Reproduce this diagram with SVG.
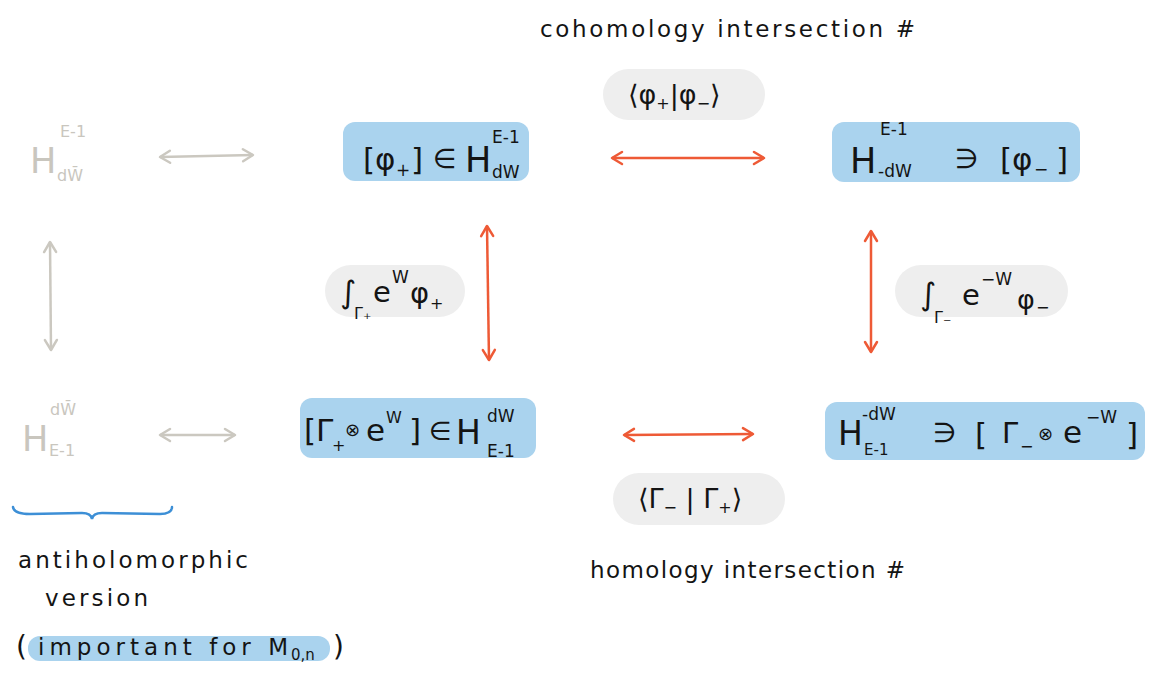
<svg xmlns="http://www.w3.org/2000/svg" width="1151" height="673" viewBox="0 0 1151 673">
<style>
text{font-family:"DejaVu Sans","Noto Sans",sans-serif;fill:#141414}
.m{font-size:31px}
.s{font-size:17px}
.g{fill:#c9c6be}
.box{fill:#aad3ee}
.pill{fill:#eeeeee}
.hand{font-size:23px}
.or{stroke:#ee5a36;stroke-width:2.5;fill:none;marker-start:url(#ho);marker-end:url(#ho)}
.gr{stroke:#cbc8c0;stroke-width:2.5;fill:none;marker-start:url(#hg);marker-end:url(#hg)}
</style>
<defs>
<marker id="ho" viewBox="-12 -8 14 16" refX="0" refY="0" markerWidth="14" markerHeight="16" markerUnits="userSpaceOnUse" orient="auto-start-reverse"><path d="M-10,-6 L0,0 L-10,6" fill="none" stroke="#ee5a36" stroke-width="2.5" stroke-linecap="round" stroke-linejoin="round"/></marker>
<marker id="hg" viewBox="-12 -8 14 16" refX="0" refY="0" markerWidth="14" markerHeight="16" markerUnits="userSpaceOnUse" orient="auto-start-reverse"><path d="M-10,-6 L0,0 L-10,6" fill="none" stroke="#cbc8c0" stroke-width="2.5" stroke-linecap="round" stroke-linejoin="round"/></marker>
</defs>
<rect width="1151" height="673" fill="#ffffff"/>

<g id="connectors">
<path class="or" d="M612,158 L764,158"/>
<path class="or" d="M487,226 L489,360"/>
<path class="or" d="M871,231 L871,352"/>
<path class="or" d="M624,435 L753,434"/>
<path class="gr" d="M160,157 L253,155"/>
<path class="gr" d="M50,242 L51,350"/>
<path class="gr" d="M160,435 L235,435"/>
</g>

<g id="title-cohomology"><text class="hand" x="540" y="37" textLength="375" lengthAdjust="spacing">cohomology intersection #</text></g>
<g id="pill-phi"><rect class="pill" x="603" y="69" width="162" height="51" rx="25.5"/>
<text x="628" y="104" font-size="27">⟨φ<tspan font-size="16" dy="5">+</tspan><tspan dy="-5">|φ</tspan><tspan font-size="16" dy="5">−</tspan><tspan dy="-5">⟩</tspan></text></g>

<g id="node-phiplus"><rect class="box" x="343" y="122" width="186" height="59" rx="12"/>
<text class="m"><tspan x="363" y="170">[φ</tspan><tspan x="396" y="176" class="s">+</tspan><tspan x="411" y="170">]</tspan><tspan x="433" y="168" font-size="27">∈</tspan><tspan x="465" y="172" font-size="35">H</tspan><tspan x="492" y="143" class="s">E-1</tspan><tspan x="492" y="178" class="s">dW</tspan></text></g>

<g id="node-phiminus"><rect class="box" x="832" y="122" width="248" height="60" rx="12"/>
<text class="m"><tspan x="850" y="173" font-size="35">H</tspan><tspan x="880" y="135" class="s">E-1</tspan><tspan x="878" y="177" class="s">-dW</tspan><tspan x="955" y="168" font-size="27">∋</tspan><tspan x="1000" y="170">[φ</tspan><tspan x="1034" y="175" class="s">−</tspan><tspan x="1056" y="170">]</tspan></text></g>

<g id="pill-int-plus"><rect class="pill" x="325" y="265" width="140" height="52" rx="26"/>
<text><tspan x="340" y="303" font-size="31">∫</tspan><tspan x="354" y="319" font-size="16">Γ₊</tspan><tspan x="373" y="302" font-size="29">e</tspan><tspan x="392" y="283" class="s">W</tspan><tspan x="410" y="303" font-size="29">φ</tspan><tspan x="430" y="309" font-size="16">+</tspan></text></g>

<g id="pill-int-minus"><rect class="pill" x="895" y="265" width="173" height="52" rx="26"/>
<text><tspan x="920" y="305" font-size="31">∫</tspan><tspan x="934" y="323" font-size="16">Γ₋</tspan><tspan x="962" y="305" font-size="29">e</tspan><tspan x="981" y="285" class="s">−W</tspan><tspan x="1017" y="309" font-size="27">φ</tspan><tspan x="1036" y="313" font-size="16">−</tspan></text></g>

<g id="node-gammaplus"><rect class="box" x="300" y="398" width="236" height="60" rx="12"/>
<text class="m"><tspan x="304" y="441">[Γ</tspan><tspan x="332" y="451" font-size="16">+</tspan><tspan x="345" y="436" font-size="18">⊗</tspan><tspan x="366" y="441">e</tspan><tspan x="386" y="423" font-size="16">W</tspan><tspan x="409" y="441">]</tspan><tspan x="429" y="440" font-size="26">∈</tspan><tspan x="456" y="444" font-size="33">H</tspan><tspan x="487" y="422" class="s">dW</tspan><tspan x="487" y="457" class="s">E-1</tspan></text></g>

<g id="node-gammaminus"><rect class="box" x="825" y="402" width="320" height="58" rx="12"/>
<text class="m"><tspan x="838" y="445" font-size="33">H</tspan><tspan x="862" y="420" class="s">-dW</tspan><tspan x="864" y="455" font-size="15">E-1</tspan><tspan x="933" y="442" font-size="27">∋</tspan><tspan x="975" y="445">[</tspan><tspan x="1002" y="443" font-size="29">Γ</tspan><tspan x="1020" y="452" font-size="16">−</tspan><tspan x="1038" y="440" font-size="18">⊗</tspan><tspan x="1063" y="443">e</tspan><tspan x="1086" y="423" class="s">−W</tspan><tspan x="1126" y="445">]</tspan></text></g>

<g id="pill-gamma"><rect class="pill" x="613" y="473" width="172" height="52" rx="26"/>
<text x="638" y="508" font-size="27">⟨Γ<tspan font-size="16" dy="5">−</tspan><tspan dy="-5"> | Γ</tspan><tspan font-size="16" dy="5">+</tspan><tspan dy="-5">⟩</tspan></text></g>

<g id="title-homology"><text class="hand" x="590" y="578" textLength="315" lengthAdjust="spacing">homology intersection #</text></g>

<g id="node-anti-top"><text class="g"><tspan x="30" y="173" font-size="35">H</tspan><tspan x="60" y="137" font-size="16">E-1</tspan><tspan x="57" y="181" font-size="16">dW̄</tspan></text></g>
<g id="node-anti-bottom"><text class="g"><tspan x="22" y="451" font-size="35">H</tspan><tspan x="50" y="415" font-size="16">dW̄</tspan><tspan x="49" y="456" font-size="16">E-1</tspan></text></g>

<g id="brace"><path d="M13,507 Q14,514 30,514 L82,513 Q91,513 92,519 Q93,513 102,513 L160,514 Q172,514 172,507" fill="none" stroke="#3d8fd6" stroke-width="2.5" stroke-linecap="round"/></g>

<g id="note"><text class="hand" x="18" y="568" textLength="230" lengthAdjust="spacing">antiholomorphic</text>
<text class="hand" x="45" y="606" textLength="103" lengthAdjust="spacing">version</text>
<rect class="box" x="28" y="636" width="302" height="25" rx="12"/>
<text class="hand"><tspan x="16" y="656" font-size="28">(</tspan><tspan x="38" y="655" textLength="250" lengthAdjust="spacing">important for M</tspan><tspan x="291" y="660" font-size="15">0,n</tspan><tspan x="333" y="656" font-size="28">)</tspan></text></g>
</svg>
